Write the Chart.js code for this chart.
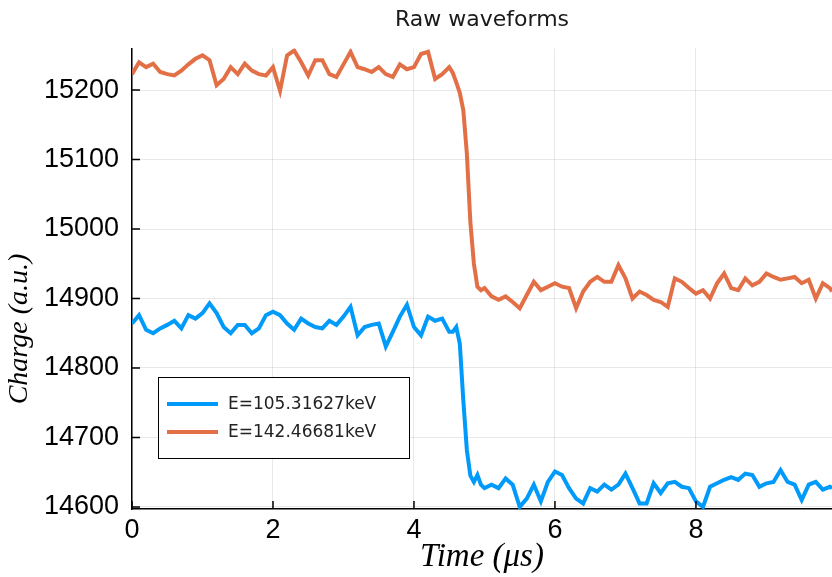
<!DOCTYPE html>
<html>
<head>
<meta charset="utf-8">
<script src="https://cdn.jsdelivr.net/npm/chart.js@4.4.1/dist/chart.umd.min.js"></script>
<style>
  html, body { margin: 0; padding: 0; background: #fff; }
  #wrap { width: 832px; height: 577px; }
</style>
</head>
<body>
<div id="wrap"><canvas id="waveChart" width="832" height="577"></canvas></div>
<script>
// sample times (us)
const timeUs = [
  0, 0.1, 0.2, 0.3, 0.4, 0.5, 0.6, 0.7, 0.8, 0.9,
  1.0, 1.1, 1.2, 1.3, 1.4, 1.5, 1.6, 1.7, 1.8, 1.9,
  2.0, 2.1, 2.2, 2.3, 2.4, 2.5, 2.6, 2.7, 2.8, 2.9,
  3.0, 3.1, 3.2, 3.3, 3.4, 3.5, 3.6, 3.7, 3.8, 3.9,
  4.0, 4.1, 4.2, 4.3, 4.4, 4.5,
  4.55, 4.6, 4.65, 4.7, 4.75, 4.8, 4.85, 4.9, 4.95, 5.0,
  5.1, 5.2, 5.3, 5.4, 5.5, 5.6, 5.7, 5.8, 5.9, 6.0,
  6.1, 6.2, 6.3, 6.4, 6.5, 6.6, 6.7, 6.8, 6.9, 7.0,
  7.1, 7.2, 7.3, 7.4, 7.5, 7.6, 7.7, 7.8, 7.9, 8.0,
  8.1, 8.2, 8.3, 8.4, 8.5, 8.6, 8.7, 8.8, 8.9, 9.0,
  9.1, 9.2, 9.3, 9.4, 9.5, 9.6, 9.7, 9.8, 9.9, 9.93
];

// E=105.31627keV
const chargeLow = [
  14864, 14876, 14855, 14850, 14857, 14862, 14868, 14857, 14876, 14871,
  14879, 14893, 14879, 14859, 14850, 14862, 14862, 14850, 14857, 14876,
  14881, 14876, 14864, 14855, 14871, 14864, 14859, 14857, 14868, 14862,
  14874, 14888, 14847, 14859, 14862, 14864, 14831, 14852, 14874, 14891,
  14859, 14847, 14874, 14868, 14871, 14852,
  14852, 14859, 14835, 14753, 14682, 14645, 14636, 14646, 14632, 14627,
  14632, 14627, 14641, 14632, 14600, 14612, 14632, 14608, 14636, 14651,
  14646, 14627, 14612, 14605, 14627, 14622, 14632, 14625, 14632, 14648,
  14627, 14605, 14605, 14634, 14620, 14634, 14636, 14629, 14627, 14608,
  14600, 14629, 14634, 14639, 14643, 14639, 14648, 14646, 14629, 14634,
  14636, 14653, 14636, 14632, 14610, 14632, 14636, 14625, 14629, 14627
];

// E=142.46681keV
const chargeHigh = [
  15223, 15240, 15233, 15238, 15226, 15223, 15221, 15228, 15237, 15245,
  15250, 15243, 15207, 15216, 15233, 15223, 15238, 15228, 15223, 15221,
  15233, 15199, 15250, 15257, 15240, 15221, 15243, 15243, 15223, 15219,
  15237, 15255, 15233, 15230, 15226, 15233, 15223, 15219, 15237, 15230,
  15233, 15252, 15255, 15216, 15223, 15233,
  15225, 15211, 15196, 15171, 15109, 15010, 14950, 14917, 14912, 14915,
  14903, 14898, 14903, 14895, 14886, 14905, 14924, 14912, 14917, 14922,
  14917, 14915, 14886, 14910, 14924, 14931, 14924, 14924, 14948, 14929,
  14900, 14910, 14905, 14898, 14895, 14888, 14929, 14924, 14915, 14907,
  14912, 14900, 14922, 14936, 14915, 14912, 14929, 14919, 14924, 14936,
  14931, 14927, 14929, 14931, 14922, 14927, 14900, 14922, 14915, 14910
];

const seriesLabels = ['E=105.31627keV', 'E=142.46681keV'];
const seriesColors = ['#009AFA', '#E36F47'];
const xTicks = [0, 2, 4, 6, 8];
const yTicks = [14600, 14700, 14800, 14900, 15000, 15100, 15200];
const yTitle = 'Charge (a.u.)';

const tickFont = { family: "'Liberation Sans', sans-serif", size: 27 };
const serifItalic = "'Liberation Serif', serif";

const toPoints = (ys) => timeUs.map((t, i) => ({ x: t, y: ys[i] }));

// short tick marks pointing into the plot, like the original
const innerTicks = {
  id: 'innerTicks',
  afterDraw(chart) {
    const { ctx, chartArea, scales } = chart;
    ctx.save();
    ctx.strokeStyle = '#000';
    ctx.lineWidth = 1.5;
    ctx.beginPath();
    yTicks.forEach(v => {
      const y = scales.y.getPixelForValue(v);
      ctx.moveTo(chartArea.left, y);
      ctx.lineTo(chartArea.left + 8, y);
    });
    xTicks.forEach(v => {
      const x = scales.x.getPixelForValue(v);
      ctx.moveTo(x, chartArea.bottom);
      ctx.lineTo(x, chartArea.bottom - 8);
    });
    ctx.stroke();
    ctx.restore();
  }
};

// y axis title sits a bit below the middle in the original, so draw it by hand
const yAxisTitle = {
  id: 'yAxisTitle',
  afterDraw(chart) {
    const ctx = chart.ctx;
    ctx.save();
    ctx.translate(20, 329);
    ctx.rotate(-Math.PI / 2);
    ctx.fillStyle = '#000';
    ctx.font = "italic 28px " + serifItalic;
    ctx.textAlign = 'center';
    ctx.textBaseline = 'middle';
    ctx.fillText(yTitle, 0, 0);
    ctx.restore();
  }
};

// legend box sitting inside the plot area
const legendBox = {
  id: 'legendBox',
  afterDraw(chart) {
    const ctx = chart.ctx;
    ctx.save();
    ctx.fillStyle = '#fff';
    ctx.fillRect(158, 377, 252, 82);
    ctx.strokeStyle = '#000';
    ctx.lineWidth = 1;
    ctx.strokeRect(158.5, 377.5, 251, 81);
    chart.data.datasets.forEach((ds, i) => {
      const y = 404 + i * 28;
      ctx.strokeStyle = ds.borderColor;
      ctx.lineWidth = 4;
      ctx.beginPath();
      ctx.moveTo(167, y);
      ctx.lineTo(218, y);
      ctx.stroke();
      ctx.fillStyle = '#222';
      ctx.font = "17px 'DejaVu Sans', sans-serif";
      ctx.textBaseline = 'middle';
      ctx.fillText(ds.label, 228, y + 1);
    });
    ctx.restore();
  }
};

new Chart(document.getElementById('waveChart'), {
  type: 'line',
  data: {
    datasets: [
      {
        label: seriesLabels[0],
        data: toPoints(chargeLow),
        borderColor: seriesColors[0],
        borderWidth: 4,
        pointRadius: 0,
        tension: 0
      },
      {
        label: seriesLabels[1],
        data: toPoints(chargeHigh),
        borderColor: seriesColors[1],
        borderWidth: 4,
        pointRadius: 0,
        tension: 0
      }
    ]
  },
  options: {
    responsive: false,
    animation: false,
    devicePixelRatio: 1,
    layout: { padding: 0 },
    plugins: {
      legend: { display: false },
      tooltip: { enabled: false },
      title: {
        display: true,
        text: 'Raw waveforms',
        fullSize: false,
        color: '#1a1a1a',
        font: { family: "'DejaVu Sans', sans-serif", size: 22, weight: 'normal' },
        padding: { top: 7, bottom: 15 }
      }
    },
    scales: {
      x: {
        type: 'linear',
        min: 0,
        max: 9.93,
        afterBuildTicks: s => { s.ticks = xTicks.map(v => ({ value: v })); },
        afterFit: s => { s.height = 68; },
        grid: { color: 'rgba(0,0,0,0.09)', drawTicks: false },
        border: { color: '#000', width: 1.5 },
        ticks: { font: tickFont, color: '#000', padding: 5, maxRotation: 0 },
        title: { display: true, text: 'Time (μs)', color: '#000', font: { family: serifItalic, size: 33, style: 'italic' }, padding: { top: 0, bottom: 0 } }
      },
      y: {
        min: 14597,
        max: 15260,
        afterBuildTicks: s => { s.ticks = yTicks.map(v => ({ value: v })); },
        afterFit: s => { s.width = 132; },
        grid: { color: 'rgba(0,0,0,0.09)', drawTicks: false },
        border: { color: '#000', width: 1.5 },
        ticks: { font: tickFont, color: '#000', padding: 13, callback: v => String(v) }
      }
    }
  },
  plugins: [innerTicks, yAxisTitle, legendBox]
});
</script>
</body>
</html>
